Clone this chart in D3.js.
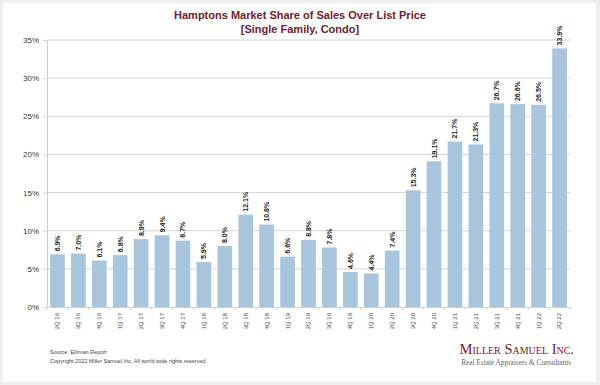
<!DOCTYPE html>
<html>
<head>
<meta charset="utf-8">
<script src="https://cdn.jsdelivr.net/npm/d3@7"></script>
<style>
  body { margin: 0; background: #efefef; }
  svg { display: block; }
</style>
</head>
<body>
<div class="chart"></div>
<script>
// quarters and share of sales over list price (%)
var quarters = ["2Q 16", "3Q 16", "4Q 16", "1Q 17", "2Q 17", "3Q 17", "4Q 17", "1Q 18", "2Q 18",
    "3Q 18", "4Q 18", "1Q 19", "2Q 19", "3Q 19", "4Q 19", "1Q 20", "2Q 20", "3Q 20", "4Q 20",
    "1Q 21", "2Q 21", "3Q 21", "4Q 21", "1Q 22", "2Q 22"];
var shares = [6.9, 7.0, 6.1, 6.8, 8.9, 9.4, 8.7, 5.9, 8.0,
    12.1, 10.8, 6.6, 8.8, 7.8, 4.6, 4.4, 7.4, 15.3, 19.1,
    21.7, 21.3, 26.7, 26.6, 26.5, 33.9];
var yTicks = [0, 5, 10, 15, 20, 25, 30, 35];

var W = 600, H = 385;
var margin = { top: 40, right: 30, bottom: 78, left: 47 },
    width = W - margin.left - margin.right,
    height = H - margin.top - margin.bottom;

var root = d3.select(".chart").append("svg")
    .attr("width", W)
    .attr("height", H);

// white card on grey page
root.append("rect")
    .attr("x", 3).attr("y", 3)
    .attr("width", W - 7).attr("height", H - 6)
    .attr("fill", "#fff");

// title
var title = root.append("text")
    .attr("text-anchor", "middle")
    .style("font-family", "Liberation Sans, Arial, sans-serif")
    .style("font-size", "11px")
    .style("font-weight", "bold")
    .style("fill", "#6e2232");
title.append("tspan").attr("x", W / 2).attr("y", 19).text("Hamptons Market Share of Sales Over List Price");
title.append("tspan").attr("x", W / 2).attr("y", 33).text("[Single Family, Condo]");

var svg = root.append("g")
    .attr("transform", "translate(" + margin.left + "," + margin.top + ")");

var x = d3.scaleBand().domain(quarters).range([0, width]).paddingInner(0.3).paddingOuter(0.15);
var y = d3.scaleLinear().domain([0, 35]).range([height, 0]);

// gridlines
svg.append("g")
    .selectAll("line")
    .data(yTicks.slice(1))
    .enter()
    .append("line")
    .attr("x1", 0).attr("x2", width)
    .attr("y1", function (d) { return y(d); })
    .attr("y2", function (d) { return y(d); })
    .attr("stroke", "#d4d4d4")
    .attr("stroke-width", 1);

// bars
svg.selectAll("rect.bar")
    .data(shares)
    .enter()
    .append("rect")
    .attr("class", "bar")
    .attr("x", function (d, i) { return x(quarters[i]); })
    .attr("y", function (d) { return y(d); })
    .attr("width", x.bandwidth())
    .attr("height", function (d) { return height - y(d); })
    .attr("fill", "#a9c5dc");

// value labels
svg.selectAll("text.val")
    .data(shares)
    .enter()
    .append("text")
    .attr("class", "val")
    .attr("transform", function (d, i) {
        return "translate(" + (x(quarters[i]) + x.bandwidth() / 2 + 2.5) + "," + (y(d) - 3) + ") rotate(-90)";
    })
    .style("font-family", "Liberation Sans, Arial, sans-serif")
    .style("font-size", "7px")
    .style("font-weight", "bold")
    .style("fill", "#222")
    .text(function (d) { return d.toFixed(1) + "%"; });

// y axis
var yAxis = svg.append("g")
    .call(d3.axisLeft(y).tickValues(yTicks).tickSize(4).tickFormat(function (d) { return d + "%"; }));
yAxis.select(".domain").attr("stroke", "#cfcfcf");
yAxis.selectAll(".tick line").attr("stroke", "#cfcfcf");
yAxis.selectAll("text")
    .attr("x", -8)
    .style("font-family", "Liberation Sans, Arial, sans-serif")
    .style("font-size", "8px")
    .style("fill", "#333");

// x axis
var xAxis = svg.append("g")
    .attr("transform", "translate(0," + height + ")")
    .call(d3.axisBottom(x).tickSize(0));
xAxis.select(".domain").attr("stroke", "#cfcfcf");
xAxis.selectAll("text")
    .attr("transform", "rotate(-90)")
    .attr("x", -6)
    .attr("y", 0)
    .attr("dy", "0.32em")
    .attr("text-anchor", "end")
    .style("font-family", "Liberation Sans, Arial, sans-serif")
    .style("font-size", "6px")
    .style("fill", "#444");

// tick marks between bars
svg.append("g")
    .selectAll("line")
    .data(quarters.concat(["end"]))
    .enter()
    .append("line")
    .attr("x1", function (d, i) { return i * x.step(); })
    .attr("x2", function (d, i) { return i * x.step(); })
    .attr("y1", height).attr("y2", height + 3)
    .attr("stroke", "#cfcfcf");

// footer
var foot = root.append("g")
    .style("font-family", "Liberation Sans, Arial, sans-serif")
    .style("font-size", "5.5px")
    .style("fill", "#444");
foot.append("text").attr("x", 50).attr("y", 354).text("Source: Elliman Report");
foot.append("text").attr("x", 50).attr("y", 363).text("Copyright 2022 Miller Samuel Inc.  All world wide rights reserved.");

// logo
root.append("text")
    .attr("x", 574).attr("y", 354)
    .attr("text-anchor", "end")
    .style("font-family", "Liberation Serif, serif")
    .style("font-size", "14.5px")
    .style("font-variant", "small-caps")
    .style("fill", "#6e2232")
    .text("Miller Samuel Inc.");
root.append("text")
    .attr("x", 571).attr("y", 365)
    .attr("text-anchor", "end")
    .style("font-family", "Liberation Serif, serif")
    .style("font-size", "7.3px")
    .style("fill", "#666")
    .text("Real Estate Appraisers & Consultants");
</script>
</body>
</html>
